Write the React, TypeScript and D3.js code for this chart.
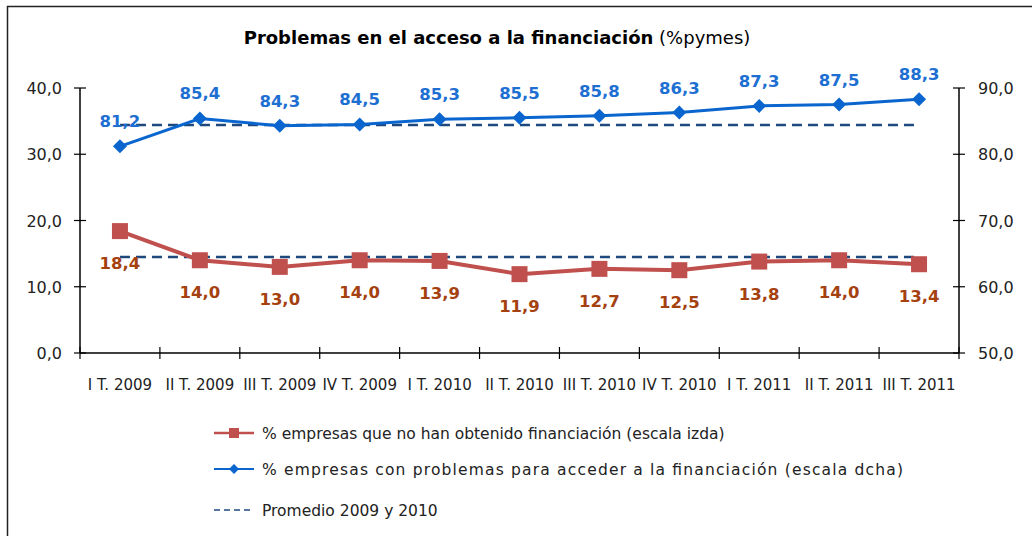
import React from "react";
import * as d3 from "d3";

const quarters = [
  "I T. 2009", "II T. 2009", "III T. 2009", "IV T. 2009", "I T. 2010", "II T. 2010",
  "III T. 2010", "IV T. 2010", "I T. 2011", "II T. 2011", "III T. 2011",
];
const noFinancing = [18.4, 14.0, 13.0, 14.0, 13.9, 11.9, 12.7, 12.5, 13.8, 14.0, 13.4];
const accessProblems = [81.2, 85.4, 84.3, 84.5, 85.3, 85.5, 85.8, 86.3, 87.3, 87.5, 88.3];
const avgNoFinancing = 14.5;
const avgAccessProblems = 84.4;
const leftTicks = [0, 10, 20, 30, 40];
const rightTicks = [50, 60, 70, 80, 90];
const legendLabels = [
  "% empresas que no han obtenido financiación (escala izda)",
  "% empresas con problemas para acceder a la financiación (escala dcha)",
  "Promedio 2009 y 2010",
];

const W = 1032;
const H = 536;
const FONT = "'DejaVu Sans', sans-serif";
const RED = "#C0504D";
const RED_TXT = "#A5410F";
const BLUE = "#0A66CE";
const BLUE_TXT = "#1E6FD2";
const DASH = "#1F497D";

const fmt = (v: number) => v.toFixed(1).replace(".", ",");

export default function App() {
  const left = 80, right = 959, top = 88, bottom = 353;
  const x = d3.scaleBand<string>().domain(quarters).range([left, right]);
  const cx = (i: number) => (x(quarters[i]) as number) + x.bandwidth() / 2;
  const yL = d3.scaleLinear().domain([0, 40]).range([bottom, top]);
  const yR = d3.scaleLinear().domain([50, 90]).range([bottom, top]);

  const redLine = d3.line<number>().x((_, i) => cx(i)).y((d) => yL(d));
  const blueLine = d3.line<number>().x((_, i) => cx(i)).y((d) => yR(d));
  const x0 = cx(0), x1 = cx(quarters.length - 1);
  const bounds = [left, ...quarters.map((q) => (x(q) as number) + x.bandwidth())];

  return (
    <svg width={W} height={H} style={{ display: "block", position: "absolute", left: 0, top: 0 }} fontFamily={FONT}>
      <rect x={0} y={0} width={W} height={H} fill="#fff" />
      <rect x={7.5} y={6.5} width={W + 10} height={H + 10} fill="none" stroke="#222" strokeWidth={1.5} />

      <text x={497} y={44} textAnchor="middle" fontSize={18} fill="#000">
        <tspan fontWeight="bold">Problemas en el acceso a la financiación</tspan>
        <tspan> (%pymes)</tspan>
      </text>

      {/* axes */}
      <line x1={left} x2={left} y1={top} y2={bottom} stroke="#000" strokeWidth={1.5} />
      <line x1={right} x2={right} y1={top} y2={bottom} stroke="#000" strokeWidth={1.5} />
      <line x1={left} x2={right} y1={bottom} y2={bottom} stroke="#000" strokeWidth={1.5} />
      {leftTicks.map((t) => (
        <g key={"l" + t}>
          <line x1={left - 6} x2={left + 6} y1={yL(t)} y2={yL(t)} stroke="#000" strokeWidth={1.2} />
          <text x={62} y={yL(t) + 6} textAnchor="end" fontSize={16} fill="#222">{fmt(t)}</text>
        </g>
      ))}
      {rightTicks.map((t) => (
        <g key={"r" + t}>
          <line x1={right - 6} x2={right + 6} y1={yR(t)} y2={yR(t)} stroke="#000" strokeWidth={1.2} />
          <text x={978} y={yR(t) + 6} textAnchor="start" fontSize={16} fill="#222">{fmt(t)}</text>
        </g>
      ))}
      {bounds.map((b, i) => (
        <line key={"b" + i} x1={b} x2={b} y1={bottom - 6} y2={bottom + 6} stroke="#000" strokeWidth={1.2} />
      ))}
      {quarters.map((q, i) => (
        <text key={q} x={cx(i)} y={390} textAnchor="middle" fontSize={15} fill="#222">{q}</text>
      ))}

      {/* average lines */}
      <line x1={x0} x2={x1} y1={yL(avgNoFinancing)} y2={yL(avgNoFinancing)} stroke={DASH} strokeWidth={2.5} strokeDasharray="10 6" />
      <line x1={x0} x2={x1} y1={yR(avgAccessProblems)} y2={yR(avgAccessProblems)} stroke={DASH} strokeWidth={2.5} strokeDasharray="10 6" />

      {/* red series */}
      <path d={redLine(noFinancing) ?? ""} fill="none" stroke={RED} strokeWidth={4} />
      {noFinancing.map((v, i) => (
        <rect key={"rs" + i} x={cx(i) - 8} y={yL(v) - 8} width={16} height={16} fill={RED} />
      ))}
      {noFinancing.map((v, i) => (
        <text key={"rt" + i} x={cx(i)} y={yL(v) + 38} textAnchor="middle" fontSize={16.5} fontWeight="bold" fill={RED_TXT}>{fmt(v)}</text>
      ))}

      {/* blue series */}
      <path d={blueLine(accessProblems) ?? ""} fill="none" stroke={BLUE} strokeWidth={3} />
      {accessProblems.map((v, i) => (
        <path key={"bd" + i} d={`M${cx(i)},${yR(v) - 7}L${cx(i) + 7},${yR(v)}L${cx(i)},${yR(v) + 7}L${cx(i) - 7},${yR(v)}Z`} fill={BLUE} />
      ))}
      {accessProblems.map((v, i) => (
        <text key={"bt" + i} x={cx(i)} y={yR(v) - 19} textAnchor="middle" fontSize={16.5} fontWeight="bold" fill={BLUE_TXT}>{fmt(v)}</text>
      ))}

      {/* legend */}
      <line x1={214} x2={254} y1={433} y2={433} stroke={RED} strokeWidth={2.5} />
      <rect x={229} y={428} width={10} height={10} fill={RED} />
      <text x={262} y={439} fontSize={15.5} fill="#222">{legendLabels[0]}</text>
      <line x1={214} x2={254} y1={469} y2={469} stroke={BLUE} strokeWidth={2} />
      <path d="M234,464L239,469L234,474L229,469Z" fill={BLUE} />
      <text x={262} y={475} fontSize={15.5} fill="#222" textLength={641} lengthAdjust="spacing">{legendLabels[1]}</text>
      <line x1={214} x2={254} y1={510} y2={510} stroke={DASH} strokeWidth={1.5} strokeDasharray="6 4" />
      <text x={262} y={516} fontSize={15.5} fill="#222">{legendLabels[2]}</text>
    </svg>
  );
}
